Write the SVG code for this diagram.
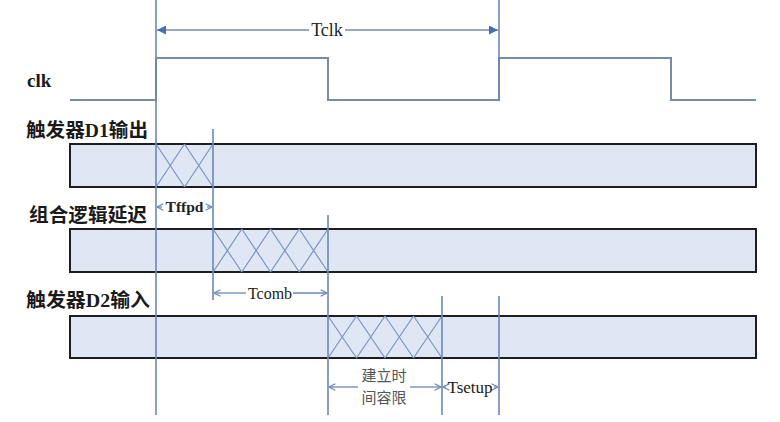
<svg xmlns="http://www.w3.org/2000/svg" width="780" height="422" viewBox="0 0 780 422">
<defs>
<style>
.lbl{font-family:"Liberation Serif","Noto Sans CJK SC",serif;font-weight:bold;font-size:19px;fill:#1a1a1a}
.t{font-family:"Liberation Serif","Noto Sans CJK SC",serif;font-size:16px;fill:#222}
.cn{font-family:"Noto Sans CJK SC",sans-serif;font-size:15px;fill:#555}
.clk{fill:none;stroke:#7a8ca2;stroke-width:2}
.guide{stroke:#6d87b6;stroke-width:1.6;fill:none}
.bar{fill:#dfe7f4;stroke:#1e1e1e;stroke-width:2}
.x{stroke:#7b94c2;stroke-width:1.2;fill:none}
.dim{stroke:#6d87b6;stroke-width:1.3;fill:none}
.dimc{stroke:#7a8ca2;stroke-width:1.5;fill:none}
</style>
<marker id="fa" viewBox="0 0 10 10" refX="10" refY="5" markerWidth="9" markerHeight="9" markerUnits="userSpaceOnUse" orient="auto-start-reverse">
<path d="M0,0 L10,5 L0,10 z" fill="#4a6eab"/>
</marker>
<marker id="oa" viewBox="0 0 10 10" refX="10" refY="5" markerWidth="8" markerHeight="8" markerUnits="userSpaceOnUse" orient="auto-start-reverse">
<path d="M2,1 L10,5 L2,9" fill="none" stroke="#6d87b6" stroke-width="1.4"/>
</marker>
</defs>
<rect width="780" height="422" fill="#ffffff"/>

<g id="labels">
<text class="lbl" x="27" y="87">clk</text>
<text class="lbl" x="26" y="137" textLength="122" lengthAdjust="spacingAndGlyphs">触发器D1输出</text>
<text class="lbl" x="29" y="222" textLength="118" lengthAdjust="spacingAndGlyphs">组合逻辑延迟</text>
<text class="lbl" x="26" y="307" textLength="124" lengthAdjust="spacingAndGlyphs">触发器D2输入</text>
</g>

<g id="clk-wave">
<polyline class="clk" points="70,100 156,100 156,58 328,58 328,100 499,100 499,58 671,58 671,100 756,100"/>
</g>

<g id="d1-output">
<rect class="bar" x="70" y="144" width="686" height="43"/>
<path class="x" d="M156,144 L184.5,187 M156,187 L184.5,144 M184.5,144 L213,187 M184.5,187 L213,144"/>
</g>

<g id="comb-delay">
<rect class="bar" x="70" y="229" width="686" height="43"/>
<path class="x" d="M213,229 L241.75,272 M213,272 L241.75,229 M241.75,229 L270.5,272 M241.75,272 L270.5,229 M270.5,229 L299.25,272 M270.5,272 L299.25,229 M299.25,229 L328,272 M299.25,272 L328,229"/>
</g>

<g id="d2-input">
<rect class="bar" x="70" y="316" width="686" height="42"/>
<path class="x" d="M328,316 L356.5,358 M328,358 L356.5,316 M356.5,316 L385,358 M356.5,358 L385,316 M385,316 L413.5,358 M385,358 L413.5,316 M413.5,316 L442,358 M413.5,358 L442,316"/>
</g>

<g id="connectors">
<line class="guide" x1="156" y1="0" x2="156" y2="415"/>
<line class="guide" x1="213" y1="129" x2="213" y2="300"/>
<line class="guide" x1="328" y1="215" x2="328" y2="415"/>
<line class="guide" x1="442" y1="296" x2="442" y2="415"/>
<line class="guide" x1="499" y1="0" x2="499" y2="100"/>
<line class="guide" x1="499" y1="296" x2="499" y2="415"/>

<line class="dimc" x1="157" y1="30" x2="309" y2="30" marker-start="url(#fa)"/>
<line class="dimc" x1="345" y1="30" x2="498" y2="30" marker-end="url(#fa)"/>

<line class="dim" x1="157" y1="207" x2="162" y2="207" marker-start="url(#oa)"/>
<line class="dim" x1="207" y1="207" x2="212" y2="207" marker-end="url(#oa)"/>

<line class="dim" x1="214" y1="293" x2="246" y2="293" marker-start="url(#oa)"/>
<line class="dim" x1="293" y1="293" x2="327" y2="293" marker-end="url(#oa)"/>

<line class="dim" x1="329" y1="387" x2="358" y2="387" marker-start="url(#oa)"/>
<line class="dim" x1="410" y1="387" x2="441" y2="387" marker-end="url(#oa)"/>

<line class="dim" x1="443" y1="387" x2="446" y2="387" marker-start="url(#oa)"/>
<line class="dim" x1="494" y1="387" x2="498" y2="387" marker-end="url(#oa)"/>
</g>

<g id="dim-labels">
<text class="t" x="327" y="36" text-anchor="middle" style="font-size:18px">Tclk</text>
<text class="t" x="184.5" y="212" text-anchor="middle" style="font-size:15.5px;font-weight:bold">Tffpd</text>
<text class="t" x="270" y="299" text-anchor="middle">Tcomb</text>
<text class="cn" x="384" y="381" text-anchor="middle">建立时</text>
<text class="cn" x="384" y="403" text-anchor="middle">间容限</text>
<text class="t" x="470" y="393" text-anchor="middle" style="font-size:17px">Tsetup</text>
</g>
</svg>
